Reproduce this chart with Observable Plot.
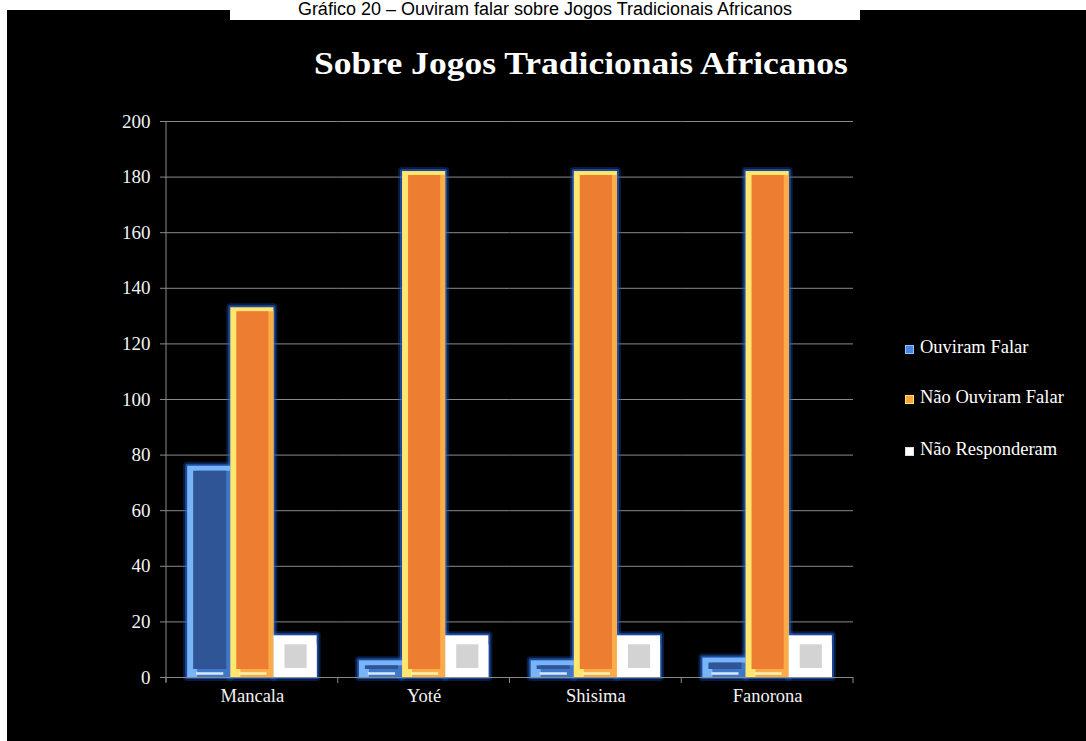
<!DOCTYPE html>
<html><head><meta charset="utf-8">
<script src="https://cdn.jsdelivr.net/npm/d3@7"></script>
<script src="https://cdn.jsdelivr.net/npm/@observablehq/plot@0.6"></script>
<style>
html,body{margin:0;padding:0;background:#fff;width:1086px;height:741px;overflow:hidden;}
#caption{position:absolute;left:230px;top:0;width:630px;height:20px;background:#fff;overflow:hidden;z-index:2;
  font-family:"Liberation Sans",Arial,sans-serif;font-size:18px;line-height:18px;color:#000;text-align:center;}
#caption span{position:relative;top:0px;}
#panel{position:absolute;left:7px;top:10px;width:1079px;height:731px;background:#000;}
#title{position:absolute;left:0;width:1148px;top:37px;text-align:center;font-family:"Liberation Serif",serif;font-weight:bold;font-size:32px;line-height:32px;color:#fff;white-space:nowrap;transform:scaleX(1.11);transform-origin:574px 0;}
.row{position:absolute;left:898px;white-space:nowrap;line-height:17px;font-family:"Liberation Serif",serif;font-size:18.5px;color:#fff;}
.sw{position:absolute;width:9px;height:9px;left:0;top:6px;box-sizing:border-box;}
.lab{position:absolute;left:15px;top:0;}
</style>
</head><body>
<div id="caption"><span>Gráfico 20 – Ouviram falar sobre Jogos Tradicionais Africanos</span></div>
<div id="panel">
  <div id="title">Sobre Jogos Tradicionais Africanos</div>
  <div id="chart"></div>
  <div id="legend"></div>
</div>
<script>
// ---- data ----
const categories = ["Mancala", "Yoté", "Shisima", "Fanorona"];
const series = ["Ouviram Falar", "Não Ouviram Falar", "Não Responderam"];
const ouviramFalar = [76, 6, 6, 7];
const naoOuviramFalar = [133, 182, 182, 182];
const naoResponderam = [15, 15, 15, 15];
const yTicks = [0, 20, 40, 60, 80, 100, 120, 140, 160, 180, 200];

const valuesBySeries = [ouviramFalar, naoOuviramFalar, naoResponderam];
const rows = [];
series.forEach((s, i) => categories.forEach((c, j) => rows.push({cat: c, serie: s, value: valuesBySeries[i][j]})));

// ---- styles per series ----
const styles = {
  "Ouviram Falar":     {outer: "#78b4f8", side: "#3f78c8", body: "#2f5597", hi: "#d6e8ff", inset: {l: 6, r: 4, t: 5, b: 8}, swatch: "#4a86e0", swEdge: "#8fc0ff"},
  "Não Ouviram Falar": {outer: "#ffe66e", side: "#fbac48", body: "#ed7d31", hi: "#fff2b0", inset: {l: 6, r: 5, t: 4, b: 8}, swatch: "#f7a43c", swEdge: "#ffe070"},
  "Não Responderam":   {outer: "#ffffff", side: "#ffffff", body: "#d3d3d3", hi: null,     inset: {l: 11, r: 10, t: 9, b: 9}, swatch: "#ffffff", swEdge: "#dddddd"}
};

const base = {fx: "cat", x: "serie", y: "value"};
const marks = [
  Plot.gridY(yTicks, {stroke: "#8a8a8a", strokeOpacity: 1, strokeWidth: 1}),
  Plot.axisY(yTicks, {tickSize: 6, tickPadding: 10, stroke: "#8a8a8a", fill: "#f2f2f2", fontSize: 19, label: null}),
  Plot.axisFx({anchor: "bottom", tickSize: 0, tickPadding: 11, fill: "#f2f2f2", fontSize: 18.5, label: null}),
  // blue halo behind all bars
  Plot.barY(rows, {...base, fill: "none", stroke: "#1a4fb0", strokeOpacity: 0.35, strokeWidth: 8, strokeLinejoin: "round"}),
  Plot.barY(rows, {...base, fill: "none", stroke: "#2a68d8", strokeOpacity: 0.6, strokeWidth: 4, strokeLinejoin: "round"})
];
for (const s of series) {
  const st = styles[s];
  const data = rows.filter(d => d.serie === s);
  marks.push(Plot.barY(data, {...base, fill: st.outer}));
  marks.push(Plot.barY(data, {...base, fill: st.side, insetLeft: 10, insetTop: st.inset.t}));
  marks.push(Plot.barY(data, {...base, fill: st.body, insetLeft: st.inset.l, insetRight: st.inset.r, insetTop: st.inset.t, insetBottom: st.inset.b}));
  if (st.hi) marks.push(Plot.tickY(data, {fx: "cat", x: "serie", y: () => 0, dy: -4, stroke: st.hi, strokeWidth: 2.5, insetLeft: 9, insetRight: 7}));
}
marks.push(Plot.ruleY([0], {stroke: "#8a8a8a"}));

const chart = Plot.plot({
  width: 1079, height: 731,
  marginLeft: 159, marginRight: 233, marginTop: 111, marginBottom: 64,
  style: {background: "#000", color: "#f2f2f2", fontFamily: "Liberation Serif, serif", fontSize: "18px", overflow: "visible"},
  fx: {domain: categories, padding: 0, round: false, label: null},
  x: {domain: series, axis: null, paddingInner: 0, paddingOuter: 0.49, round: false},
  y: {domain: [0, 200], axis: null, label: null},
  marks
});
document.getElementById("chart").appendChild(chart);

// category boundary ticks and y axis line, from the library's scales
const fx = chart.scale("fx"), y = chart.scale("y");
const y0 = y.apply(0), yTop = y.apply(200);
const bounds = fx.domain.map(d => fx.apply(d));
bounds.push(bounds[bounds.length - 1] + fx.bandwidth);
const svg = d3.select(chart);
svg.append("line").attr("x1", bounds[0]).attr("x2", bounds[0]).attr("y1", yTop).attr("y2", y0 + 5).attr("stroke", "#8a8a8a");
svg.selectAll("line.btick").data(bounds).join("line").attr("class", "btick")
  .attr("x1", d => d).attr("x2", d => d).attr("y1", y0).attr("y2", y0 + 6).attr("stroke", "#8a8a8a");

// legend
const legendTops = [329, 379, 431];
const legend = d3.select("#legend");
series.forEach((s, i) => {
  const row = legend.append("div").attr("class", "row").style("top", legendTops[i] + "px");
  row.append("div").attr("class", "sw").style("background", styles[s].swatch).style("border", "1px solid " + styles[s].swEdge);
  row.append("div").attr("class", "lab").text(s);
});
</script>
</body></html>
